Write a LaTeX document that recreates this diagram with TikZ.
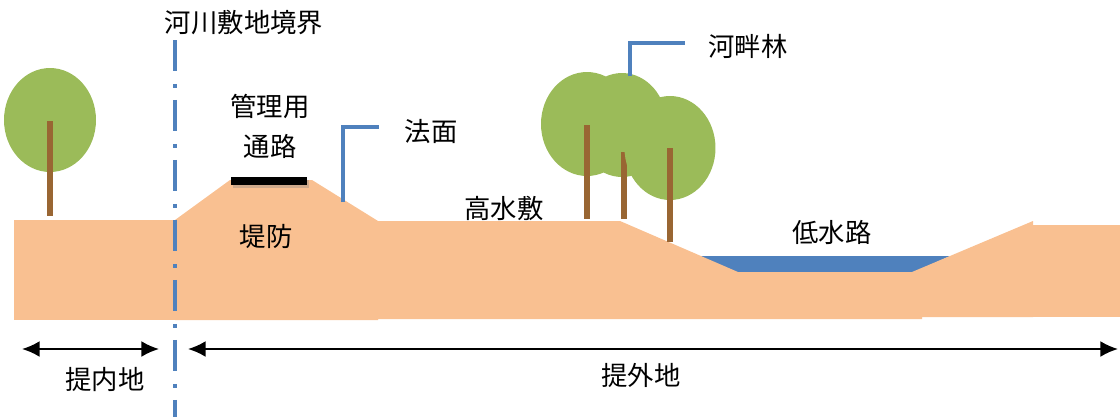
\documentclass[tikz,border=0pt]{standalone}
\usepackage{fontspec}
\setmainfont{Noto Sans CJK JP}
\usetikzlibrary{arrows.meta,positioning,shadows}

\definecolor{soil}{RGB}{249,192,145}
\definecolor{water}{RGB}{79,129,189}
\definecolor{leaf}{RGB}{155,187,89}
\definecolor{wood}{RGB}{153,102,51}

\begin{document}
\begin{tikzpicture}[x=0.02cm, y=-0.02cm, >={Latex[length=10pt,width=9pt]},
  font=\fontsize{15}{18}\selectfont,
  leader/.style={draw=water, line width=2pt},
  trunk/.style={draw=wood, line width=2.9pt},
  span/.style={<->, line width=1.1pt}]

\useasboundingbox (0,0) rectangle (1120,417);

% water first, the banks cover its edges
\fill[water] (700,256) -- (950,256) -- (912,273) -- (738,273) -- cycle;

% ground profile
\fill[soil] (14,220) rectangle (175,320);
\fill[soil] (175,220) -- (230,180) -- (312,180) -- (378,221) -- (620,221)
  -- (738,272) -- (912,272) -- (1033,221) -- (1033,317) -- (922,317)
  -- (922,319) -- (378,319) -- (378,320) -- (175,320) -- cycle;
\fill[soil] (1033,225) rectangle (1120,317);

% road on the crest
\fill[black, drop shadow={opacity=0.35, shadow xshift=0.04cm, shadow yshift=-0.06cm}]
  (231,177) rectangle (307,185);

% trees
\fill[leaf] (50,120) ellipse [x radius=0.92cm, y radius=1.04cm];
\draw[trunk] (50,121) -- (50,216);

\fill[leaf] (587,124) ellipse [x radius=0.92cm, y radius=1.04cm];
\fill[leaf] (622,125) ellipse [x radius=0.9cm, y radius=1.04cm];
\draw[trunk] (587,125) -- (587,219);
\draw[trunk] (624,152) -- (624,219);
\fill[leaf] (670,148) ellipse [x radius=0.91cm, y radius=1.04cm];
\draw[trunk] (670,148) -- (670,242);

% boundary of the river area
\draw[water, line width=2.3pt, dash pattern=on 0.62cm off 0.26cm on 0.08cm off 0.24cm]
  (175,40) -- (175,417);

% labels
\node (kyokai) at (244,23) {河川敷地境界};
\node (kanri) at (270,106) {管理用};
\node (tsuro) at (270,146) {通路};
\node (teibo) at (266,236) {堤防};
\node (houmen) at (431,132) {法面};
\node (kousui) at (504,208) {高水敷};
\node (kahan) at (748,46) {河畔林};
\node (teisui) at (832,232) {低水路};
\node (naichi) at (105,380) {提内地};
\node (gaichi) at (641,375) {提外地};

% leaders
\coordinate (slope) at (343,202);
\coordinate (crown) at (630,76);
\draw[leader] (slope) |- ([xshift=-0.38cm, yshift=0.1cm]houmen.west);
\draw[leader] (crown) |- ([xshift=-0.35cm, yshift=0.06cm]kahan.west);

% extents
\coordinate (n1) at (22,349);
\coordinate (n2) at (159,349);
\coordinate (g1) at (188,349);
\coordinate (g2) at (1118,349);
\draw[span] (n1) -- (n2);
\draw[span] (g1) -- (g2);

\end{tikzpicture}
\end{document}
